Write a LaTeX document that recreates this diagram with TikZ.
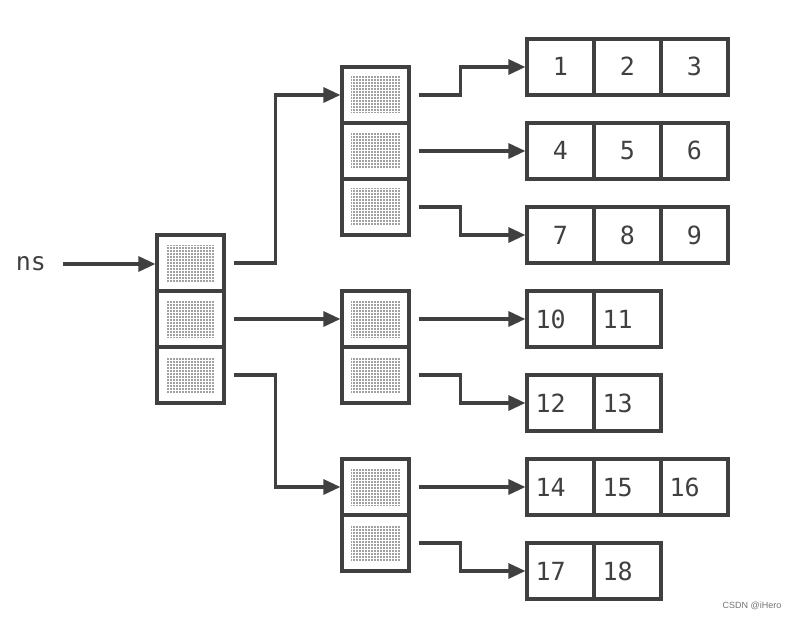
\documentclass[tikz,border=0pt]{standalone}
\usepackage{fontspec}
\setmonofont{DejaVu Sans Mono}
\setsansfont{Liberation Sans}
\usetikzlibrary{arrows.meta,patterns.meta}
\definecolor{ink}{HTML}{404040}
\begin{document}
\begin{tikzpicture}[x=1pt,y=-1pt,
  cellbox/.style={draw=ink,line width=3.2pt,rectangle,minimum width=67pt,minimum height=56pt,inner sep=0pt,
    path picture={\fill[pattern={Dots[distance=3pt,radius=0.95pt]},pattern color=ink]
      ([xshift=9pt,yshift=-10pt]path picture bounding box.north west) rectangle
      ([xshift=-9pt,yshift=10pt]path picture bounding box.south east);}},
  leaf/.style={draw=ink,line width=3.2pt,rectangle,minimum width=67pt,minimum height=56pt,inner sep=0pt,
    text height=18pt,text depth=0pt,
    font=\ttfamily\fontsize{25}{25}\selectfont,text=ink},
  leafl/.style={leaf,text width=50pt,align=left},
  conn/.style={draw=ink,line width=3.2pt,-{Triangle[length=17pt,width=15pt]}},
  lbl/.style={font=\ttfamily\fontsize{25}{25}\selectfont,text=ink,inner sep=0pt}
]
\useasboundingbox (0,0) rectangle (802,620);
% root column
\node[cellbox] (r1) at (190.5,263) {};
\node[cellbox] (r2) at (190.5,319) {};
\node[cellbox] (r3) at (190.5,375) {};
% middle A
\node[cellbox] (a1) at (375.5,95) {};
\node[cellbox] (a2) at (375.5,151) {};
\node[cellbox] (a3) at (375.5,207) {};
% middle B
\node[cellbox] (b1) at (375.5,319) {};
\node[cellbox] (b2) at (375.5,375) {};
% middle C
\node[cellbox] (c1) at (375.5,487) {};
\node[cellbox] (c2) at (375.5,543) {};
% leaves
\node[leaf] (l1a) at (560.5,67) {1};
\node[leaf] (l1b) at (627.5,67) {2};
\node[leaf] (l1c) at (694.5,67) {3};
\node[leaf] (l2a) at (560.5,151) {4};
\node[leaf] (l2b) at (627.5,151) {5};
\node[leaf] (l2c) at (694.5,151) {6};
\node[leaf] (l3a) at (560.5,235) {7};
\node[leaf] (l3b) at (627.5,235) {8};
\node[leaf] (l3c) at (694.5,235) {9};
\node[leafl] (l4a) at (560.5,319) {10};
\node[leafl] (l4b) at (627.5,319) {11};
\node[leafl] (l5a) at (560.5,403) {12};
\node[leafl] (l5b) at (627.5,403) {13};
\node[leafl] (l6a) at (560.5,487) {14};
\node[leafl] (l6b) at (627.5,487) {15};
\node[leafl] (l6c) at (694.5,487) {16};
\node[leafl] (l7a) at (560.5,571) {17};
\node[leafl] (l7b) at (627.5,571) {18};
% ns
\node[lbl] (ns) at (31,264) {ns};
\coordinate (nsend) at (63,264);
\draw[conn] (nsend) -- ([yshift=-1pt]r1.west);
% root connectors
\draw[conn] ([xshift=8pt]r1.east) -- ++(42,0) |- (a1.west);
\draw[conn] ([xshift=8pt]r2.east) -- (b1.west);
\draw[conn] ([xshift=8pt]r3.east) -- ++(42,0) |- (c1.west);
% middle A
\draw[conn] ([xshift=8pt]a1.east) -- ++(42,0) |- (l1a.west);
\draw[conn] ([xshift=8pt]a2.east) -- (l2a.west);
\draw[conn] ([xshift=8pt]a3.east) -- ++(42,0) |- (l3a.west);
% middle B
\draw[conn] ([xshift=8pt]b1.east) -- (l4a.west);
\draw[conn] ([xshift=8pt]b2.east) -- ++(42,0) |- (l5a.west);
% middle C
\draw[conn] ([xshift=8pt]c1.east) -- (l6a.west);
\draw[conn] ([xshift=8pt]c2.east) -- ++(42,0) |- (l7a.west);
% watermark
\node[font=\sffamily\fontsize{9}{9}\selectfont,text=black!55,inner sep=0pt] (wm) at (752,606) {CSDN @iHero};
\end{tikzpicture}
\end{document}
